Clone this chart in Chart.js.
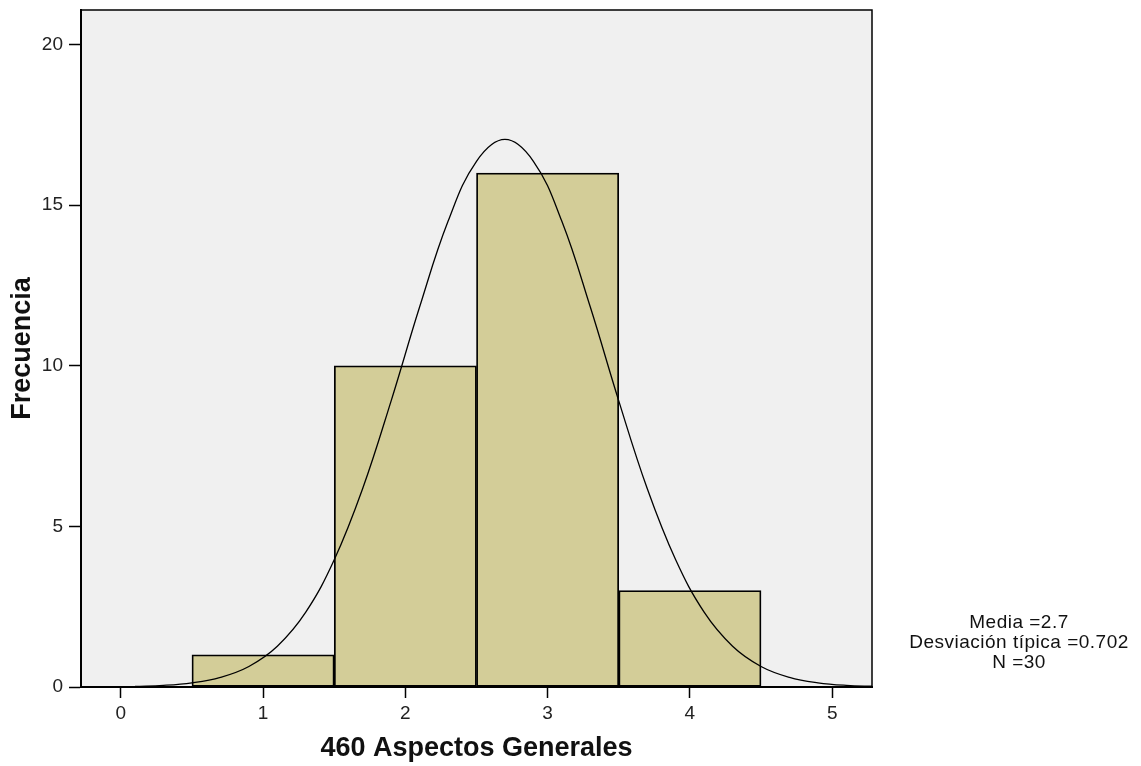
<!DOCTYPE html>
<html>
<head>
<meta charset="utf-8">
<script src="https://cdn.jsdelivr.net/npm/chart.js@4.4.1/dist/chart.umd.min.js"></script>
<style>
  html, body { margin: 0; padding: 0; background: #ffffff; }
  #wrap { width: 1141px; height: 766px; position: relative; }
</style>
</head>
<body>
<div id="wrap"><canvas id="histChart" width="1141" height="766"></canvas></div>
<script>
// Histograma: 460 Aspectos Generales
const binCenters = [1, 2, 3, 4];
const binCounts = [1, 10, 16, 3];

// curva normal
const curveX = [0.1, 0.3, 0.5, 0.7, 0.9, 1.1, 1.3, 1.5, 1.7, 1.9, 2.1, 2.3, 2.5, 2.7,
    2.9, 3.1, 3.3, 3.5, 3.7, 3.9, 4.1, 4.3, 4.5, 4.7, 4.9, 5.1, 5.3];
const curveY = [0.02, 0.05, 0.13, 0.3, 0.64, 1.27, 2.33, 3.96, 6.18, 8.91, 11.83, 14.5, 16.37, 17.05,
    16.37, 14.5, 11.83, 8.91, 6.18, 3.96, 2.33, 1.27, 0.64, 0.3, 0.13, 0.05, 0.02];

const xTicks = [0, 1, 2, 3, 4, 5];
const yTicks = [0, 5, 10, 15, 20];

const statsLines = ['Media =2.7', 'Desviación típica =0.702', 'N =30'];

const FONT = 'Arial, "Liberation Sans", sans-serif';

// fondo gris del área de trazado y marco
const plotFrame = {
    id: 'plotFrame',
    beforeDraw(chart) {
        const { ctx, chartArea: a } = chart;
        ctx.save();
        ctx.fillStyle = '#f0f0f0';
        ctx.fillRect(a.left, a.top, a.right - a.left, a.bottom - a.top);
        ctx.restore();
    },
    afterDraw(chart) {
        const { ctx, chartArea: a } = chart;
        ctx.save();
        ctx.strokeStyle = '#000';
        ctx.lineWidth = 1.5;
        ctx.beginPath();
        ctx.moveTo(a.left, a.top);
        ctx.lineTo(a.right, a.top);
        ctx.lineTo(a.right, a.bottom);
        ctx.stroke();

        // cuadro de estadísticos
        ctx.fillStyle = '#111';
        ctx.font = '19px ' + FONT;
        ctx.letterSpacing = '0.5px';
        ctx.textAlign = 'center';
        ctx.textBaseline = 'middle';
        statsLines.forEach((t, i) => ctx.fillText(t, 1019, 623 + i * 20));
        ctx.restore();
    }
};

const ctx = document.getElementById('histChart').getContext('2d');

new Chart(ctx, {
    type: 'bar',
    data: {
        datasets: [{
            type: 'line',
            data: curveX.map((x, i) => ({ x: x, y: curveY[i] })),
            borderColor: '#000',
            borderWidth: 1.3,
            pointRadius: 0,
            tension: 0.4,
            fill: false,
            order: 0
        }, {
            type: 'bar',
            data: binCenters.map((x, i) => ({ x: x, y: binCounts[i] })),
            backgroundColor: '#d3cd98',
            borderColor: '#000',
            borderWidth: 1.8,
            borderSkipped: false,
            barPercentage: 1,
            categoryPercentage: 1,
            order: 1
        }]
    },
    options: {
        responsive: false,
        animation: false,
        layout: { padding: { top: 10, right: 269, left: 0, bottom: 0 } },
        plugins: {
            legend: { display: false },
            tooltip: { enabled: false }
        },
        scales: {
            x: {
                type: 'linear',
                min: -0.28,
                max: 5.28,
                offset: false,
                afterBuildTicks: s => { s.ticks = xTicks.map(v => ({ value: v })); },
                afterFit: s => { s.height = 79; s.paddingLeft = 0; s.paddingRight = 0; },
                border: { color: '#000', width: 2 },
                grid: { offset: false, drawOnChartArea: false, tickLength: 11, tickColor: '#000', tickWidth: 1.5 },
                ticks: { color: '#222', font: { family: FONT, size: 19 }, padding: 4, maxRotation: 0 },
                title: { display: true, text: '460 Aspectos Generales', color: '#111',
                    font: { family: FONT, size: 27, weight: 'bold' }, padding: { top: 0, bottom: 1 } }
            },
            y: {
                min: 0,
                max: 21.08,
                afterBuildTicks: s => { s.ticks = yTicks.map(v => ({ value: v })); },
                afterFit: s => { s.width = 81; s.paddingTop = 0; s.paddingBottom = 0; },
                border: { color: '#000', width: 2 },
                grid: { drawOnChartArea: false, tickLength: 12, tickColor: '#000', tickWidth: 1.5 },
                ticks: { color: '#222', font: { family: FONT, size: 19 }, padding: 6 },
                title: { display: true, text: 'Frecuencia', color: '#111',
                    font: { family: FONT, size: 27, weight: 'bold' }, padding: { top: 6, bottom: 0 } }
            }
        }
    },
    plugins: [plotFrame]
});
</script>
</body>
</html>
